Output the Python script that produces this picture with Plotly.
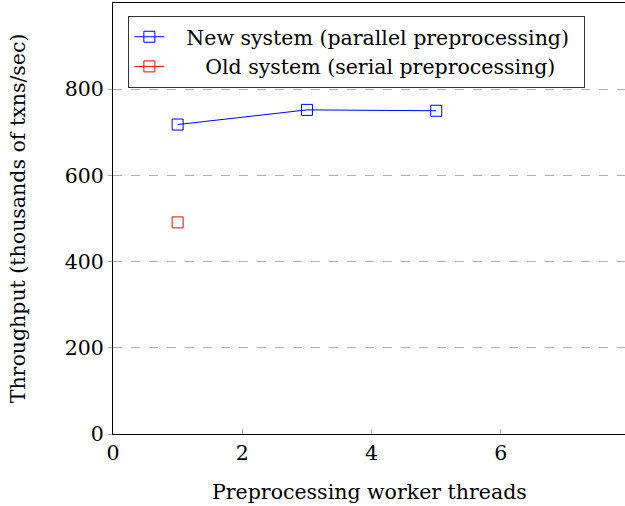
import plotly.graph_objects as go

new_x = [1, 3, 5]
new_y = [718, 752, 750]
old_x = [1]
old_y = [491]
x_ticks = [0, 2, 4, 6]
y_ticks = [0, 200, 400, 600, 800]

FONT = "DejaVu Serif"
FS = 20.5

fig = go.Figure()
fig.add_trace(go.Scatter(
    x=new_x, y=new_y, mode="lines+markers",
    name="\u2002\u2004New system (parallel preprocessing)\u2002",
    line=dict(color="#0000ff", width=1),
    marker=dict(symbol="square-open", size=11, color="#0000ff", line=dict(width=1)),
))
fig.add_trace(go.Scatter(
    x=old_x, y=old_y, mode="lines+markers",
    name="\u2002\u2002\u2002\u2005Old system (serial preprocessing)",
    line=dict(color="#ff0000", width=1),
    marker=dict(symbol="square-open", size=11, color="#ff0000", line=dict(width=1)),
))

fig.update_layout(
    width=625, height=506,
    margin=dict(l=113, r=0, t=3, b=72, autoexpand=False),
    paper_bgcolor="white", plot_bgcolor="white",
    font=dict(family=FONT, size=FS, color="#000000"),
    showlegend=True,
    legend=dict(
        x=0.03, y=0.97, xanchor="left", yanchor="top",
        bordercolor="#333333", borderwidth=1, bgcolor="white",
        font=dict(family=FONT, size=FS),
        itemwidth=30, tracegroupgap=0,
    ),
    xaxis=dict(
        range=[0, 7.92], tickvals=x_ticks, ticktext=[str(v) for v in x_ticks],
        showgrid=False, zeroline=False, automargin=False,
        showline=True, linecolor="#000000", linewidth=1, mirror=True,
        ticks="inside", ticklen=5, tickcolor="#aaaaaa", tickwidth=1,
        tickfont=dict(family=FONT, size=FS),
    ),
    yaxis=dict(
        range=[0, 1000], tickvals=y_ticks, ticktext=[str(v) for v in y_ticks],
        showgrid=True, gridcolor="#b0b0b0", griddash="dash", gridwidth=1,
        zeroline=False, automargin=False,
        showline=True, linecolor="#000000", linewidth=1,
        ticks="outside", ticklen=4, tickcolor="#aaaaaa", tickwidth=1,
        tickfont=dict(family=FONT, size=FS),
    ),
    annotations=[
        dict(text="Preprocessing worker threads", xref="paper", yref="paper",
             x=0.5, y=-0.135, xanchor="center", yanchor="middle", showarrow=False,
             font=dict(family=FONT, size=FS)),
        dict(text="Throughput (thousands of txns/sec)", xref="paper", yref="paper",
             x=-0.186, y=0.5, xanchor="center", yanchor="middle", showarrow=False,
             textangle=-90, font=dict(family=FONT, size=FS)),
    ],
)

fig.write_html(
    "out.html",
    config={"displayModeBar": False},
    post_script="document.body.style.margin='0';document.body.style.overflow='hidden';",
)
